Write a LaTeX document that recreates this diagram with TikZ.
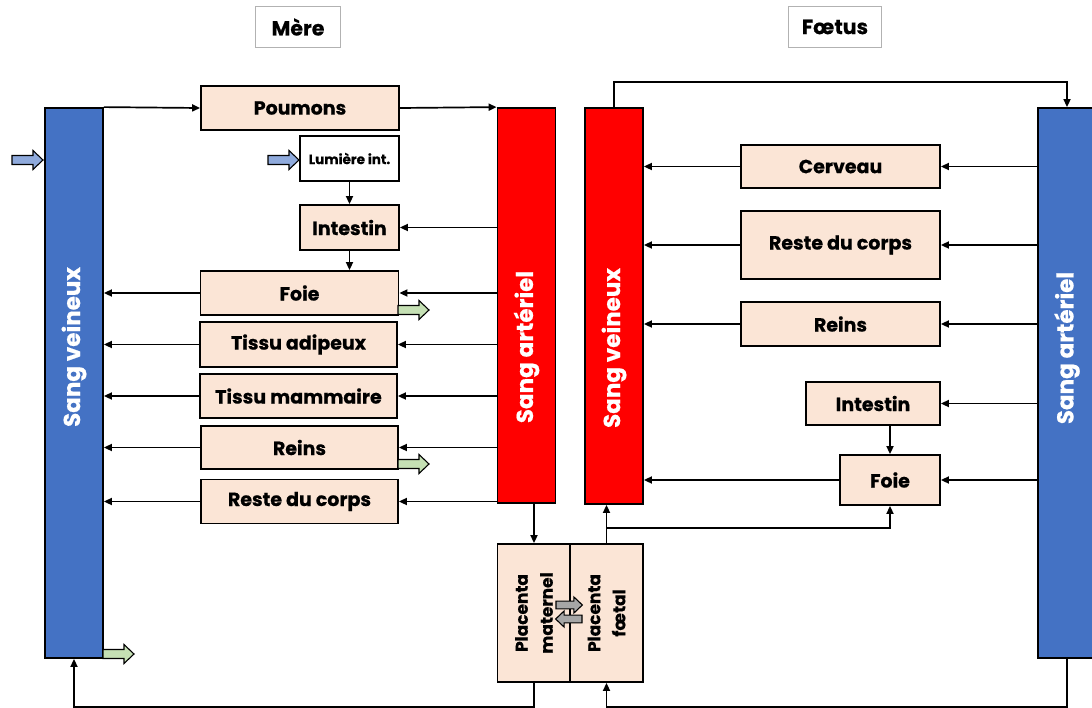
\documentclass[tikz,border=0pt]{standalone}
\usepackage{fontspec}
\setmainfont{Poppins}[BoldFeatures={FakeBold=0.6}]
\usetikzlibrary{arrows.meta,positioning}

\definecolor{peche}{HTML}{FBE5D6}
\definecolor{bleuveine}{HTML}{4472C4}
\definecolor{rougeart}{HTML}{FF0000}
\definecolor{bleuentree}{HTML}{8FAADC}
\definecolor{vertsortie}{HTML}{C5E0B4}
\definecolor{grisechange}{HTML}{A6A6A6}

\tikzset{
  organe/.style={draw, line width=1.8pt, fill=peche, inner sep=0pt,
    font=\bfseries\fontsize{19}{21}\selectfont},
  titre/.style={draw=gray!60, line width=1.3pt, inner sep=0pt,
    font=\bfseries\fontsize{20.5}{22}\selectfont},
  barre/.style={draw, line width=1.8pt, inner sep=0pt, minimum width=58pt},
  barretexte/.style={rotate=90, text=white, font=\bfseries\fontsize{23}{25}\selectfont},
  fleche/.style={line width=1.7pt, -{Triangle[length=8pt,width=7pt]}},
}

% grosse fleche : x, y, sens, couleur, echelle
\newcommand{\flechebloc}[5]{%
  \draw[line width=1.1pt, fill=#4, shift={(#1,#2)}, xscale=#3, scale=#5]
    (0,-4.5) -- (21,-4.5) -- (21,-9.5) -- (31,0) -- (21,9.5) -- (21,4.5) -- (0,4.5) -- cycle;}

\begin{document}
\begin{tikzpicture}[x=1pt, y=-1pt]
  \useasboundingbox (0,0) rectangle (1092,707);

  % Titres
  \node[titre, minimum width=85pt, minimum height=41pt] (mere) at (298,27) {Mère};
  \node[titre, minimum width=93pt, minimum height=41pt] (foetus) at (835,27) {Fœtus};

  % Sang (barres)
  \node[barre, fill=bleuveine, minimum height=550pt] (veineM) at (74,383) {};
  \node[barre, fill=rougeart, minimum height=395pt] (artM) at (526.5,305.5) {};
  \node[barre, fill=rougeart, minimum height=396pt] (veineF) at (614,306) {};
  \node[barre, fill=bleuveine, minimum height=550pt] (artF) at (1067,383) {};
  \node[barretexte] (txtveineM) at (74,347) {Sang veineux};
  \node[barretexte] (txtartM) at (526.5,347) {Sang artériel};
  \node[barretexte] (txtveineF) at (614,348) {Sang veineux};
  \node[barretexte] (txtartF) at (1067,348) {Sang artériel};

  % Organes de la mere
  \node[organe, minimum width=198pt, minimum height=44pt] (poumons) at (300,108) {Poumons};
  \node[organe, fill=white, font=\bfseries\fontsize{13.5}{15}\selectfont,
    minimum width=99pt, minimum height=45pt] (lumiere) at (349.5,158.5) {Lumière int.};
  \node[organe, minimum width=99pt, minimum height=45pt] (intestinM) at (349.5,227.5) {Intestin};
  \node[organe, minimum width=198pt, minimum height=44pt] (foieM) at (299.5,293) {Foie};
  \node[organe, minimum width=197pt, minimum height=45pt] (adipeux) at (298.5,344.5) {Tissu adipeux};
  \node[organe, minimum width=197pt, minimum height=44pt] (mammaire) at (298.5,396) {Tissu mammaire};
  \node[organe, minimum width=197pt, minimum height=43pt] (reinsM) at (299.5,447.5) {Reins};
  \node[organe, minimum width=197pt, minimum height=44pt] (resteM) at (299.5,501.5) {Reste du corps};

  % Organes du foetus
  \node[organe, minimum width=199pt, minimum height=43pt] (cerveau) at (840.5,166.5) {Cerveau};
  \node[organe, minimum width=199pt, minimum height=68pt] (resteF) at (840.5,245) {Reste du corps};
  \node[organe, minimum width=199pt, minimum height=44pt] (reinsF) at (840.5,324) {Reins};
  \node[organe, minimum width=134pt, minimum height=43pt] (intestinF) at (873,403.5) {Intestin};
  \node[organe, minimum width=100pt, minimum height=50pt] (foieF) at (890,480) {Foie};

  % Placenta
  \node[organe, minimum width=73pt, minimum height=138pt] (placM) at (534,613) {};
  \node[organe, minimum width=73pt, minimum height=138pt] (placF) at (606.5,613) {};
  \node[rotate=90, align=center, font=\bfseries\fontsize{17}{25}\selectfont] (txtplacM) at (placM) {Placenta\\maternel};
  \node[rotate=90, align=center, font=\bfseries\fontsize{17}{25}\selectfont] (txtplacF) at (placF) {Placenta\\fœtal};

  % Circulation maternelle
  \draw[fleche] (veineM.north east) -- (poumons.west);
  \draw[fleche] (poumons.east) -- (artM.north west);
  \draw[fleche] (lumiere.south) -- (intestinM.north);
  \draw[fleche] (artM.west |- intestinM) -- (intestinM.east);
  \draw[fleche] (intestinM.south) -- (intestinM.south |- foieM.north);
  \foreach \o in {foieM,adipeux,mammaire,reinsM,resteM}{
    \draw[fleche] (artM.west |- \o) -- (\o.east);
    \draw[fleche] (\o.west) -- (\o.west -| veineM.east);
  }
  \draw[fleche] (placM.north |- artM.south) -- (placM.north);
  \draw[fleche] (placM.south) -- ++(0,24) -| (veineM.south);

  % Circulation foetale
  \path (placF.north) ++(0,-15) coordinate (branche);
  \draw[fleche] (placF.north) -- (placF.north |- veineF.south);
  \draw[fleche] (branche) -| (foieF.south);
  \foreach \o in {cerveau,resteF,reinsF}{
    \draw[fleche] (artF.west |- \o) -- (\o.east);
    \draw[fleche] (\o.west) -- (\o.west -| veineF.east);
  }
  \draw[fleche] (artF.west |- intestinF) -- (intestinF.east);
  \draw[fleche] (intestinF.south -| foieF.north) -- (foieF.north);
  \draw[fleche] (artF.west |- foieF) -- (foieF.east);
  \draw[fleche] (foieF.west) -- (foieF.west -| veineF.east);
  \draw[fleche] (veineF.north) -- ++(0,-25) -| (artF.north);
  \draw[fleche] (artF.south) -- ++(0,48) -| (placF.south);

  % Entrees, sorties et echanges
  \flechebloc{12}{160}{1}{bleuentree}{1}
  \flechebloc{268}{160}{1}{bleuentree}{1}
  \flechebloc{398}{310}{1}{vertsortie}{1}
  \flechebloc{398}{464}{1}{vertsortie}{1}
  \flechebloc{103}{654}{1}{vertsortie}{1}
  \flechebloc{556}{605}{1}{grisechange}{0.85}
  \flechebloc{582}{619}{-1}{grisechange}{0.85}
\end{tikzpicture}
\end{document}
